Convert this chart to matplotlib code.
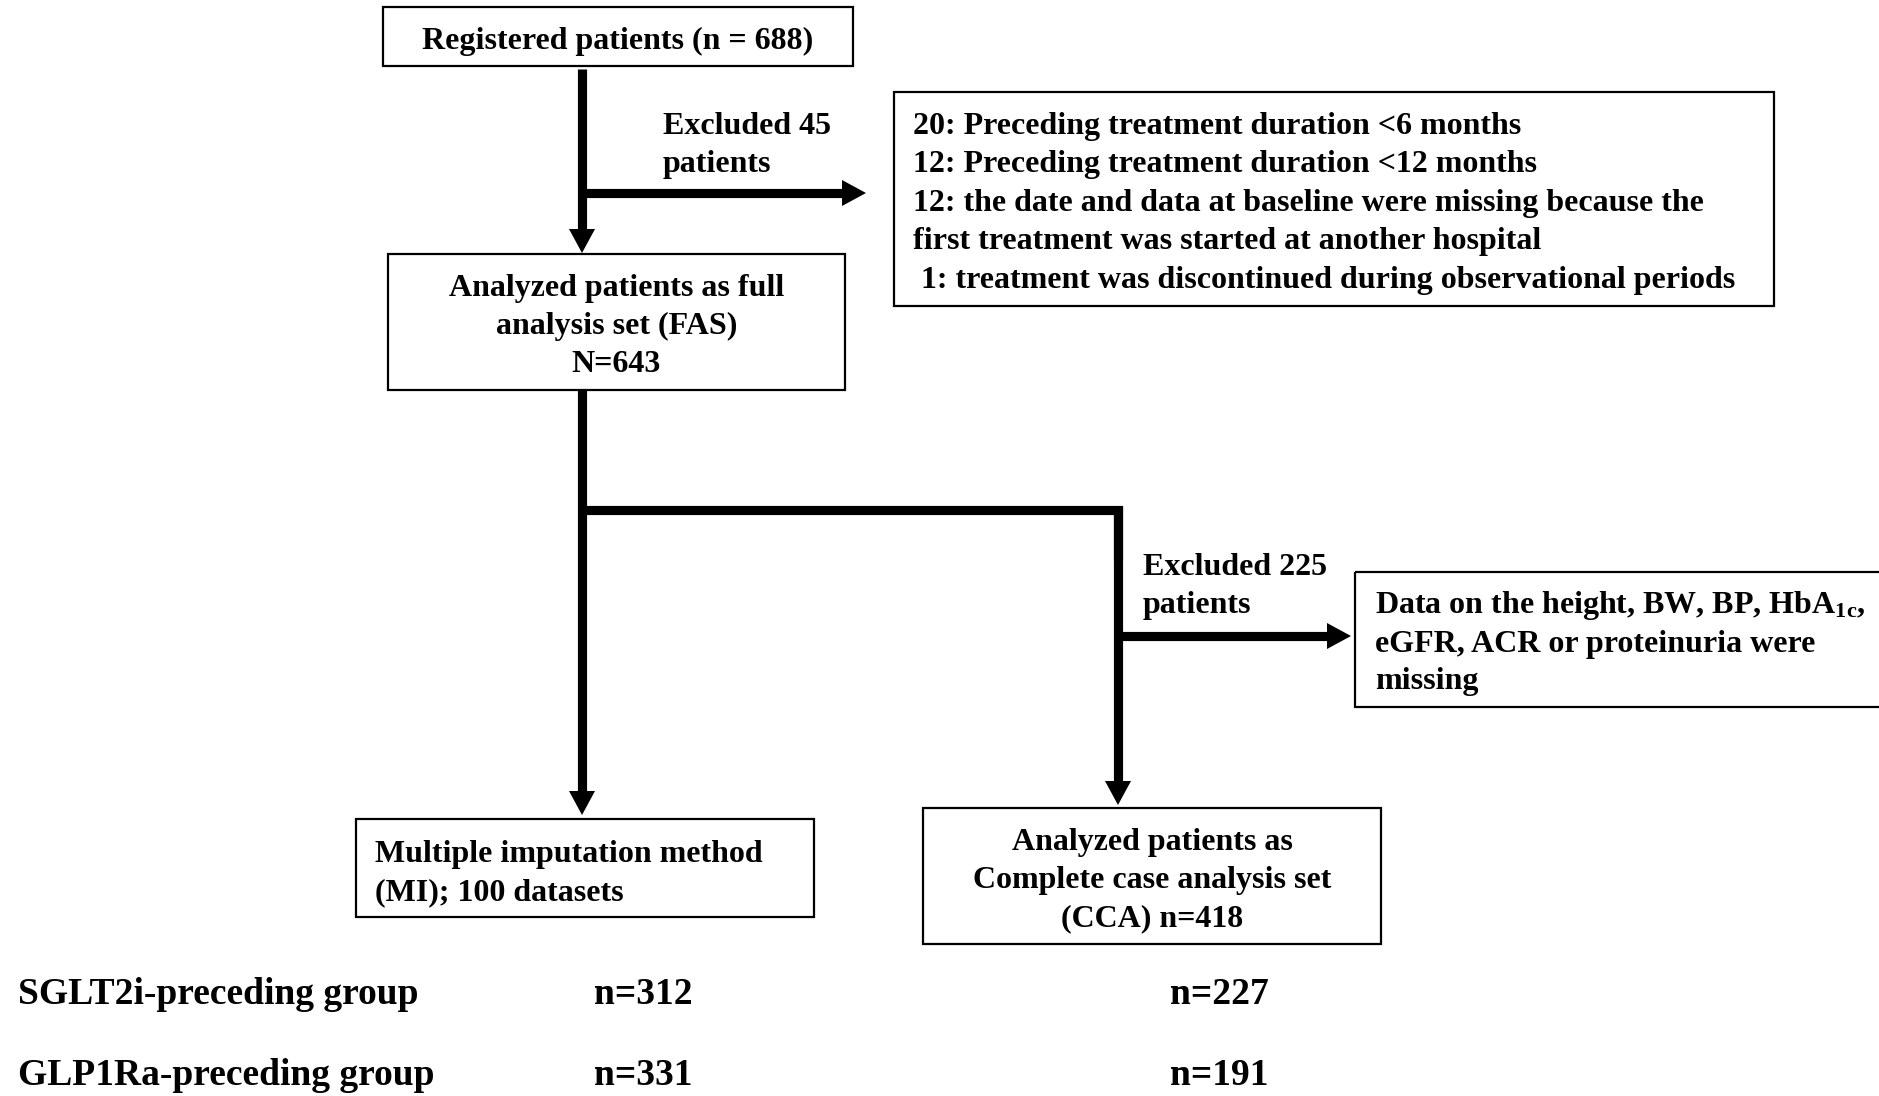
import matplotlib
matplotlib.use("Agg")
import matplotlib.pyplot as plt
from matplotlib.patches import Rectangle, Polygon

plt.rcParams['font.family'] = ['Liberation Serif', 'DejaVu Serif']
plt.rcParams['font.weight'] = 'bold'
plt.rcParams['mathtext.fontset'] = 'custom'
plt.rcParams['mathtext.rm'] = 'Liberation Serif:bold'
plt.rcParams['mathtext.bf'] = 'Liberation Serif:bold'
plt.rcParams['mathtext.it'] = 'Liberation Serif:bold'
plt.rcParams['mathtext.default'] = 'rm'

# ---------------- data ----------------
registered_n = 688
excluded_first_n = 45
excluded_first_reasons = [
    "20: Preceding treatment duration <6 months",
    "12: Preceding treatment duration <12 months",
    "12: the date and data at baseline were missing because the",
    "first treatment was started at another hospital",
    " 1: treatment was discontinued during observational periods",
]
fas_n = 643
excluded_second_n = 225
excluded_second_reasons = [
    "Data on the height, BW, BP, HbA$_{1c}$,",
    "eGFR, ACR or proteinuria were",
    "missing",
]
mi_datasets = 100
cca_n = 418
group_names = ["SGLT2i-preceding group", "GLP1Ra-preceding group"]
mi_counts = [312, 331]
cca_counts = [227, 191]

# ---------------- layout ----------------
W, H = 1879, 1096
fig = plt.figure(figsize=(W / 100, H / 100), dpi=100)
ax = fig.add_axes([0, 0, 1, 1])
ax.set_xlim(0, W)
ax.set_ylim(H, 0)
ax.axis('off')

FS = 23
FS_BIG = 27
LW_ARROW = 6.6
HEAD_L, HEAD_W = 24, 26


def box(x0, y0, x1, y1):
    ax.add_patch(Rectangle((x0, y0), x1 - x0, y1 - y0, fill=False,
                           edgecolor='black', linewidth=1.6))


def lines_text(x, baselines, texts, ha='left', fs=FS):
    for yb, t in zip(baselines, texts):
        ax.text(x, yb, t, ha=ha, va='baseline', fontsize=fs,
                fontweight='bold', color='black')


def arrow(points):
    """polyline whose last segment ends with an arrow head at last point"""
    (xa, ya), (xb, yb) = points[-2], points[-1]
    dx, dy = xb - xa, yb - ya
    n = (dx ** 2 + dy ** 2) ** 0.5
    ux, uy = dx / n, dy / n
    bx, by = xb - ux * HEAD_L, yb - uy * HEAD_L
    pts = list(points[:-1]) + [(bx, by)]
    ax.plot([p[0] for p in pts], [p[1] for p in pts], color='black',
            lw=LW_ARROW, solid_capstyle='butt', solid_joinstyle='miter')
    px, py = -uy, ux
    ax.add_patch(Polygon([(xb, yb),
                          (bx + px * HEAD_W / 2, by + py * HEAD_W / 2),
                          (bx - px * HEAD_W / 2, by - py * HEAD_W / 2)],
                         closed=True, color='black', lw=0))


def seg(points):
    ax.plot([p[0] for p in points], [p[1] for p in points], color='black',
            lw=LW_ARROW, solid_capstyle='butt', solid_joinstyle='miter')


# Box 1: registered
box(383, 7, 853, 66)
lines_text(618, [49], [f"Registered patients (n = {registered_n})"], ha='center')

# arrow down to FAS and branch right
arrow([(582, 69), (582, 253)])
arrow([(582, 193), (866, 193)])
lines_text(663, [134, 172], [f"Excluded {excluded_first_n}", "patients"])

# exclusion box 1
box(894, 92, 1774, 306)
lines_text(913, [134 + 38.4 * i for i in range(5)], excluded_first_reasons)

# Box 2: FAS
box(388, 254, 845, 390)
lines_text(616.5, [296, 334, 372],
           ["Analyzed patients as full", "analysis set (FAS)", f"N={fas_n}"],
           ha='center')

# arrow down to MI
arrow([(582, 390), (582, 815)])
# branch to CCA
seg([(582, 510), (1118, 510), (1118, 560)])
arrow([(1118, 506), (1118, 805)])
arrow([(1118, 636), (1351, 636)])
lines_text(1143, [575, 613], [f"Excluded {excluded_second_n}", "patients"])

# exclusion box 2
box(1355, 572, 1885, 707)
lines_text(1375, [613, 652, 689], excluded_second_reasons)

# MI box
box(356, 819, 814, 917)
lines_text(375, [862, 900], ["Multiple imputation method",
                             f"(MI); {mi_datasets} datasets"])

# CCA box
box(923, 808, 1381, 944)
lines_text(1152, [850, 888, 926],
           ["Analyzed patients as", "Complete case analysis set",
            f"(CCA) n={cca_n}"], ha='center')

# group counts
for i, name in enumerate(group_names):
    yb = [1004, 1085][i]
    lines_text(18, [yb], [name], fs=FS_BIG)
    lines_text(594, [yb], [f"n={mi_counts[i]}"], fs=FS_BIG)
    lines_text(1170, [yb], [f"n={cca_counts[i]}"], fs=FS_BIG)

fig.savefig("out.png", dpi=100, facecolor='white')
